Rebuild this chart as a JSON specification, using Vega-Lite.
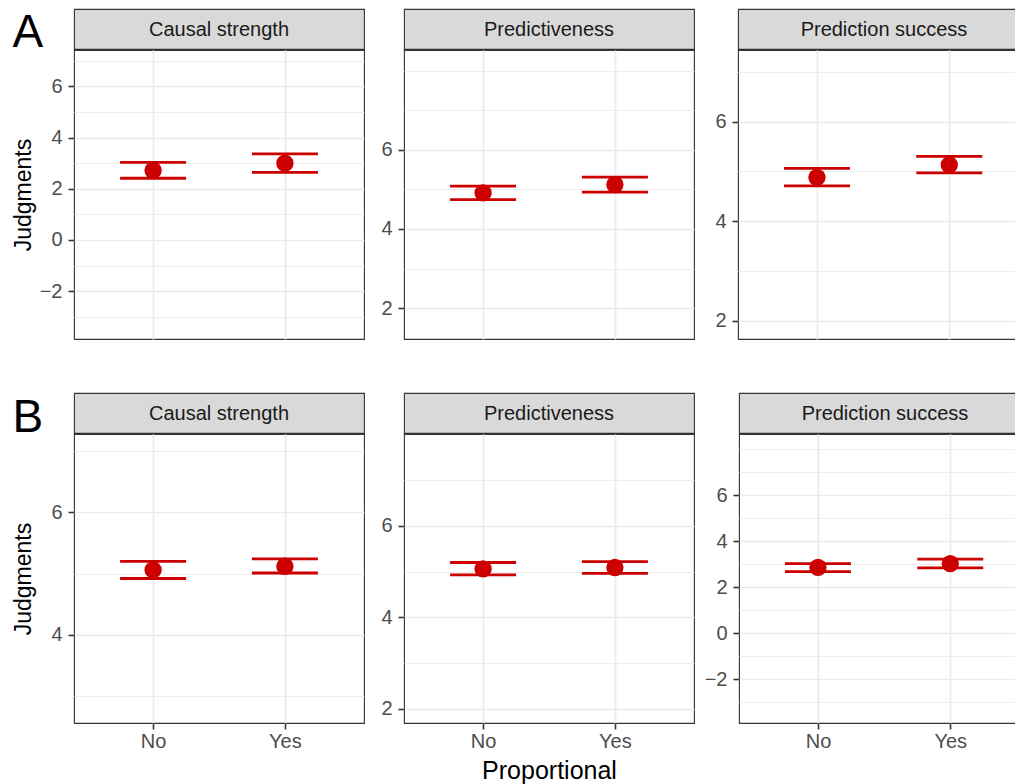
{
  "$schema": "https://vega.github.io/schema/vega-lite/v6.json",
  "background": "white",
  "padding": {"left": 11, "top": 8, "right": 0, "bottom": 0},
  "config": {"font": "Liberation Sans"},
  "datasets": {
    "pts": [
      {"exp": "A", "panel": "Causal strength", "prop": "No", "mean": 2.72, "lo": 2.41, "hi": 3.03},
      {"exp": "A", "panel": "Causal strength", "prop": "Yes", "mean": 3.0, "lo": 2.64, "hi": 3.36},
      {"exp": "A", "panel": "Predictiveness", "prop": "No", "mean": 4.91, "lo": 4.74, "hi": 5.08},
      {"exp": "A", "panel": "Predictiveness", "prop": "Yes", "mean": 5.12, "lo": 4.93, "hi": 5.31},
      {"exp": "A", "panel": "Prediction success", "prop": "No", "mean": 4.88, "lo": 4.71, "hi": 5.06},
      {"exp": "A", "panel": "Prediction success", "prop": "Yes", "mean": 5.13, "lo": 4.97, "hi": 5.30},
      {"exp": "B", "panel": "Causal strength", "prop": "No", "mean": 5.06, "lo": 4.92, "hi": 5.20},
      {"exp": "B", "panel": "Causal strength", "prop": "Yes", "mean": 5.12, "lo": 5.01, "hi": 5.24},
      {"exp": "B", "panel": "Predictiveness", "prop": "No", "mean": 5.06, "lo": 4.93, "hi": 5.20},
      {"exp": "B", "panel": "Predictiveness", "prop": "Yes", "mean": 5.09, "lo": 4.96, "hi": 5.22},
      {"exp": "B", "panel": "Prediction success", "prop": "No", "mean": 2.86, "lo": 2.68, "hi": 3.03},
      {"exp": "B", "panel": "Prediction success", "prop": "Yes", "mean": 3.03, "lo": 2.84, "hi": 3.22}
    ],
    "strips": [
      {"exp": "A", "panel": "Causal strength"},
      {"exp": "A", "panel": "Predictiveness"},
      {"exp": "A", "panel": "Prediction success"},
      {"exp": "B", "panel": "Causal strength"},
      {"exp": "B", "panel": "Predictiveness"},
      {"exp": "B", "panel": "Prediction success"}
    ]
  },
  "vconcat": [
    {
      "title": {"text": "A", "orient": "left", "anchor": "end", "frame": "group", "angle": 0, "align": "center", "baseline": "alphabetic", "dy": 38, "offset": -47, "fontSize": 46, "fontWeight": "normal", "color": "black"},
      "hconcat": [
        {
          "vconcat": [
            {
              "width": 290, "height": 40,
              "data": {"name": "strips"},
              "transform": [{"filter": "datum.exp === 'A' && datum.panel === 'Causal strength'"}],
              "view": {"fill": "#D9D9D9", "stroke": "#333333", "strokeWidth": 1.1},
              "mark": {"type": "text", "fontSize": 20, "color": "#1A1A1A", "baseline": "middle", "dy": 1},
              "encoding": {"text": {"field": "panel"}, "y": {"field": "panel", "type": "nominal", "axis": null}}
            },
            {
              "width": 290, "height": 289,
              "data": {"name": "pts"},
              "transform": [{"filter": "datum.exp === 'A' && datum.panel === 'Causal strength'"}],
              "view": {"fill": "white", "stroke": "#333333", "strokeWidth": 1.1},
              "encoding": {
                "x": {"field": "prop", "type": "nominal", "scale": {"type": "point", "padding": 0.6, "domain": ["No", "Yes"]},
                  "axis": {"grid": true, "gridColor": "#EBEBEB", "gridWidth": 1.7, "labels": false, "ticks": false, "domain": false, "title": null, "minExtent": 0, "maxExtent": 0}}
              },
              "layer": [
                {"mark": {"type": "rule", "color": "#CC0000", "strokeWidth": 2.8},
                  "encoding": {"y": {"field": "lo", "type": "quantitative", "scale": {"domain": [-3.87, 7.42], "nice": false, "zero": false},
                    "axis": {"orient": "right", "values": [-3, -1, 1, 3, 5, 7], "grid": true, "gridColor": "#EBEBEB", "gridWidth": 0.9, "labels": false, "ticks": false, "domain": false, "title": null, "minExtent": 0, "maxExtent": 0}},
                    "y2": {"field": "hi"}}},
                {"mark": {"type": "tick", "color": "#CC0000", "size": 66, "thickness": 2.8, "opacity": 1},
                  "encoding": {"y": {"field": "lo", "type": "quantitative", "axis": null}}},
                {"mark": {"type": "tick", "color": "#CC0000", "size": 66, "thickness": 2.8, "opacity": 1},
                  "encoding": {"y": {"field": "hi", "type": "quantitative", "axis": null}}},
                {"mark": {"type": "point", "filled": true, "color": "#CC0000", "size": 300, "opacity": 1},
                  "encoding": {"y": {"field": "mean", "type": "quantitative",
                    "axis": {"values": [-2, 0, 2, 4, 6], "grid": true, "gridColor": "#EBEBEB", "gridWidth": 1.7, "domain": false, "tickColor": "#333333", "tickWidth": 1.6, "tickSize": 6, "labelFontSize": 20, "labelColor": "#4D4D4D", "labelPadding": 6, "minExtent": 37, "maxExtent": 37, "title": "Judgments", "titleFontSize": 23, "titleFontWeight": "normal", "titleColor": "black", "titlePadding": 2}}}}
              ],
              "resolve": {"axis": {"y": "independent"}}
            }
          ],
          "spacing": -1
        },
        {
          "vconcat": [
            {
              "width": 290, "height": 40,
              "data": {"name": "strips"},
              "transform": [{"filter": "datum.exp === 'A' && datum.panel === 'Predictiveness'"}],
              "view": {"fill": "#D9D9D9", "stroke": "#333333", "strokeWidth": 1.1},
              "mark": {"type": "text", "fontSize": 20, "color": "#1A1A1A", "baseline": "middle", "dy": 1},
              "encoding": {"text": {"field": "panel"}, "y": {"field": "panel", "type": "nominal", "axis": null}}
            },
            {
              "width": 290, "height": 289,
              "data": {"name": "pts"},
              "transform": [{"filter": "datum.exp === 'A' && datum.panel === 'Predictiveness'"}],
              "view": {"fill": "white", "stroke": "#333333", "strokeWidth": 1.1},
              "encoding": {
                "x": {"field": "prop", "type": "nominal", "scale": {"type": "point", "padding": 0.6, "domain": ["No", "Yes"]},
                  "axis": {"grid": true, "gridColor": "#EBEBEB", "gridWidth": 1.7, "labels": false, "ticks": false, "domain": false, "title": null, "minExtent": 0, "maxExtent": 0}}
              },
              "layer": [
                {"mark": {"type": "rule", "color": "#CC0000", "strokeWidth": 2.8},
                  "encoding": {"y": {"field": "lo", "type": "quantitative", "scale": {"domain": [1.22, 8.52], "nice": false, "zero": false},
                    "axis": {"orient": "right", "values": [3, 5, 7, 8], "grid": true, "gridColor": "#EBEBEB", "gridWidth": 0.9, "labels": false, "ticks": false, "domain": false, "title": null, "minExtent": 0, "maxExtent": 0}},
                    "y2": {"field": "hi"}}},
                {"mark": {"type": "tick", "color": "#CC0000", "size": 66, "thickness": 2.8, "opacity": 1},
                  "encoding": {"y": {"field": "lo", "type": "quantitative", "axis": null}}},
                {"mark": {"type": "tick", "color": "#CC0000", "size": 66, "thickness": 2.8, "opacity": 1},
                  "encoding": {"y": {"field": "hi", "type": "quantitative", "axis": null}}},
                {"mark": {"type": "point", "filled": true, "color": "#CC0000", "size": 300, "opacity": 1},
                  "encoding": {"y": {"field": "mean", "type": "quantitative",
                    "axis": {"values": [2, 4, 6], "grid": true, "gridColor": "#EBEBEB", "gridWidth": 1.7, "domain": false, "tickColor": "#333333", "tickWidth": 1.6, "tickSize": 6, "labelFontSize": 20, "labelColor": "#4D4D4D", "labelPadding": 6, "minExtent": 30, "maxExtent": 30, "title": null}}}}
              ],
              "resolve": {"axis": {"y": "independent"}}
            }
          ],
          "spacing": -1
        },
        {
          "vconcat": [
            {
              "width": 278, "height": 40,
              "data": {"name": "strips"},
              "transform": [{"filter": "datum.exp === 'A' && datum.panel === 'Prediction success'"}],
              "view": {"fill": "#D9D9D9", "stroke": "#333333", "strokeWidth": 1.1},
              "mark": {"type": "text", "fontSize": 20, "color": "#1A1A1A", "baseline": "middle", "dy": 1, "dx": 7},
              "encoding": {"text": {"field": "panel"}, "y": {"field": "panel", "type": "nominal", "axis": null}}
            },
            {
              "width": 278, "height": 289,
              "data": {"name": "pts"},
              "transform": [{"filter": "datum.exp === 'A' && datum.panel === 'Prediction success'"}],
              "view": {"fill": "white", "stroke": "#333333", "strokeWidth": 1.1},
              "encoding": {
                "x": {"field": "prop", "type": "nominal", "scale": {"type": "point", "padding": 0.5506, "align": 0.542, "domain": ["No", "Yes"]},
                  "axis": {"grid": true, "gridColor": "#EBEBEB", "gridWidth": 1.7, "labels": false, "ticks": false, "domain": false, "title": null, "minExtent": 0, "maxExtent": 0}}
              },
              "layer": [
                {"mark": {"type": "rule", "color": "#CC0000", "strokeWidth": 2.8},
                  "encoding": {"y": {"field": "lo", "type": "quantitative", "scale": {"domain": [1.63, 7.44], "nice": false, "zero": false},
                    "axis": {"orient": "right", "values": [3, 5, 7], "grid": true, "gridColor": "#EBEBEB", "gridWidth": 0.9, "labels": false, "ticks": false, "domain": false, "title": null, "minExtent": 0, "maxExtent": 0}},
                    "y2": {"field": "hi"}}},
                {"mark": {"type": "tick", "color": "#CC0000", "size": 66, "thickness": 2.8, "opacity": 1},
                  "encoding": {"y": {"field": "lo", "type": "quantitative", "axis": null}}},
                {"mark": {"type": "tick", "color": "#CC0000", "size": 66, "thickness": 2.8, "opacity": 1},
                  "encoding": {"y": {"field": "hi", "type": "quantitative", "axis": null}}},
                {"mark": {"type": "point", "filled": true, "color": "#CC0000", "size": 300, "opacity": 1},
                  "encoding": {"y": {"field": "mean", "type": "quantitative",
                    "axis": {"values": [2, 4, 6], "grid": true, "gridColor": "#EBEBEB", "gridWidth": 1.7, "domain": false, "tickColor": "#333333", "tickWidth": 1.6, "tickSize": 6, "labelFontSize": 20, "labelColor": "#4D4D4D", "labelPadding": 6, "minExtent": 34, "maxExtent": 34, "title": null}}}}
              ],
              "resolve": {"axis": {"y": "independent"}}
            }
          ],
          "spacing": -1
        }
      ],
      "spacing": 8
    },
    {
      "title": {"text": "B", "orient": "left", "anchor": "end", "frame": "group", "angle": 0, "align": "center", "baseline": "alphabetic", "dy": 39, "offset": -47, "fontSize": 46, "fontWeight": "normal", "color": "black"},
      "hconcat": [
        {
          "vconcat": [
            {
              "width": 290, "height": 40,
              "data": {"name": "strips"},
              "transform": [{"filter": "datum.exp === 'B' && datum.panel === 'Causal strength'"}],
              "view": {"fill": "#D9D9D9", "stroke": "#333333", "strokeWidth": 1.1},
              "mark": {"type": "text", "fontSize": 20, "color": "#1A1A1A", "baseline": "middle", "dy": 1},
              "encoding": {"text": {"field": "panel"}, "y": {"field": "panel", "type": "nominal", "axis": null}}
            },
            {
              "width": 290, "height": 289,
              "data": {"name": "pts"},
              "transform": [{"filter": "datum.exp === 'B' && datum.panel === 'Causal strength'"}],
              "view": {"fill": "white", "stroke": "#333333", "strokeWidth": 1.1},
              "encoding": {
                "x": {"field": "prop", "type": "nominal", "scale": {"type": "point", "padding": 0.6, "domain": ["No", "Yes"]},
                  "axis": {"grid": true, "gridColor": "#EBEBEB", "gridWidth": 1.7, "labels": true, "labelAngle": 0, "labelFontSize": 20, "labelColor": "#4D4D4D", "labelPadding": 2, "ticks": true, "tickSize": 6, "tickColor": "#333333", "tickWidth": 1.6, "domain": false, "title": null}}
              },
              "layer": [
                {"mark": {"type": "rule", "color": "#CC0000", "strokeWidth": 2.8},
                  "encoding": {"y": {"field": "lo", "type": "quantitative", "scale": {"domain": [2.56, 7.28], "nice": false, "zero": false},
                    "axis": {"orient": "right", "values": [3, 5, 7], "grid": true, "gridColor": "#EBEBEB", "gridWidth": 0.9, "labels": false, "ticks": false, "domain": false, "title": null, "minExtent": 0, "maxExtent": 0}},
                    "y2": {"field": "hi"}}},
                {"mark": {"type": "tick", "color": "#CC0000", "size": 66, "thickness": 2.8, "opacity": 1},
                  "encoding": {"y": {"field": "lo", "type": "quantitative", "axis": null}}},
                {"mark": {"type": "tick", "color": "#CC0000", "size": 66, "thickness": 2.8, "opacity": 1},
                  "encoding": {"y": {"field": "hi", "type": "quantitative", "axis": null}}},
                {"mark": {"type": "point", "filled": true, "color": "#CC0000", "size": 300, "opacity": 1},
                  "encoding": {"y": {"field": "mean", "type": "quantitative",
                    "axis": {"values": [4, 6], "grid": true, "gridColor": "#EBEBEB", "gridWidth": 1.7, "domain": false, "tickColor": "#333333", "tickWidth": 1.6, "tickSize": 6, "labelFontSize": 20, "labelColor": "#4D4D4D", "labelPadding": 6, "minExtent": 37, "maxExtent": 37, "title": "Judgments", "titleFontSize": 23, "titleFontWeight": "normal", "titleColor": "black", "titlePadding": 2}}}}
              ],
              "resolve": {"axis": {"y": "independent"}}
            }
          ],
          "spacing": -1
        },
        {
          "vconcat": [
            {
              "width": 290, "height": 40,
              "data": {"name": "strips"},
              "transform": [{"filter": "datum.exp === 'B' && datum.panel === 'Predictiveness'"}],
              "view": {"fill": "#D9D9D9", "stroke": "#333333", "strokeWidth": 1.1},
              "mark": {"type": "text", "fontSize": 20, "color": "#1A1A1A", "baseline": "middle", "dy": 1},
              "encoding": {"text": {"field": "panel"}, "y": {"field": "panel", "type": "nominal", "axis": null}}
            },
            {
              "width": 290, "height": 289,
              "data": {"name": "pts"},
              "transform": [{"filter": "datum.exp === 'B' && datum.panel === 'Predictiveness'"}],
              "view": {"fill": "white", "stroke": "#333333", "strokeWidth": 1.1},
              "encoding": {
                "x": {"field": "prop", "type": "nominal", "scale": {"type": "point", "padding": 0.6, "domain": ["No", "Yes"]},
                  "axis": {"grid": true, "gridColor": "#EBEBEB", "gridWidth": 1.7, "labels": true, "labelAngle": 0, "labelFontSize": 20, "labelColor": "#4D4D4D", "labelPadding": 2, "ticks": true, "tickSize": 6, "tickColor": "#333333", "tickWidth": 1.6, "domain": false, "title": "Proportional", "titleFontSize": 25, "titleFontWeight": "normal", "titleColor": "black", "titlePadding": 7}}
              },
              "layer": [
                {"mark": {"type": "rule", "color": "#CC0000", "strokeWidth": 2.8},
                  "encoding": {"y": {"field": "lo", "type": "quantitative", "scale": {"domain": [1.69, 8.01], "nice": false, "zero": false},
                    "axis": {"orient": "right", "values": [3, 5, 7], "grid": true, "gridColor": "#EBEBEB", "gridWidth": 0.9, "labels": false, "ticks": false, "domain": false, "title": null, "minExtent": 0, "maxExtent": 0}},
                    "y2": {"field": "hi"}}},
                {"mark": {"type": "tick", "color": "#CC0000", "size": 66, "thickness": 2.8, "opacity": 1},
                  "encoding": {"y": {"field": "lo", "type": "quantitative", "axis": null}}},
                {"mark": {"type": "tick", "color": "#CC0000", "size": 66, "thickness": 2.8, "opacity": 1},
                  "encoding": {"y": {"field": "hi", "type": "quantitative", "axis": null}}},
                {"mark": {"type": "point", "filled": true, "color": "#CC0000", "size": 300, "opacity": 1},
                  "encoding": {"y": {"field": "mean", "type": "quantitative",
                    "axis": {"values": [2, 4, 6], "grid": true, "gridColor": "#EBEBEB", "gridWidth": 1.7, "domain": false, "tickColor": "#333333", "tickWidth": 1.6, "tickSize": 6, "labelFontSize": 20, "labelColor": "#4D4D4D", "labelPadding": 6, "minExtent": 30, "maxExtent": 30, "title": null}}}}
              ],
              "resolve": {"axis": {"y": "independent"}}
            }
          ],
          "spacing": -1
        },
        {
          "vconcat": [
            {
              "width": 278, "height": 40,
              "data": {"name": "strips"},
              "transform": [{"filter": "datum.exp === 'B' && datum.panel === 'Prediction success'"}],
              "view": {"fill": "#D9D9D9", "stroke": "#333333", "strokeWidth": 1.1},
              "mark": {"type": "text", "fontSize": 20, "color": "#1A1A1A", "baseline": "middle", "dy": 1, "dx": 7},
              "encoding": {"text": {"field": "panel"}, "y": {"field": "panel", "type": "nominal", "axis": null}}
            },
            {
              "width": 278, "height": 289,
              "data": {"name": "pts"},
              "transform": [{"filter": "datum.exp === 'B' && datum.panel === 'Prediction success'"}],
              "view": {"fill": "white", "stroke": "#333333", "strokeWidth": 1.1},
              "encoding": {
                "x": {"field": "prop", "type": "nominal", "scale": {"type": "point", "padding": 0.5506, "align": 0.542, "domain": ["No", "Yes"]},
                  "axis": {"grid": true, "gridColor": "#EBEBEB", "gridWidth": 1.7, "labels": true, "labelAngle": 0, "labelFontSize": 20, "labelColor": "#4D4D4D", "labelPadding": 2, "ticks": true, "tickSize": 6, "tickColor": "#333333", "tickWidth": 1.6, "domain": false, "title": null}}
              },
              "layer": [
                {"mark": {"type": "rule", "color": "#CC0000", "strokeWidth": 2.8},
                  "encoding": {"y": {"field": "lo", "type": "quantitative", "scale": {"domain": [-3.9, 8.66], "nice": false, "zero": false},
                    "axis": {"orient": "right", "values": [-3, -1, 1, 3, 5, 7, 8], "grid": true, "gridColor": "#EBEBEB", "gridWidth": 0.9, "labels": false, "ticks": false, "domain": false, "title": null, "minExtent": 0, "maxExtent": 0}},
                    "y2": {"field": "hi"}}},
                {"mark": {"type": "tick", "color": "#CC0000", "size": 66, "thickness": 2.8, "opacity": 1},
                  "encoding": {"y": {"field": "lo", "type": "quantitative", "axis": null}}},
                {"mark": {"type": "tick", "color": "#CC0000", "size": 66, "thickness": 2.8, "opacity": 1},
                  "encoding": {"y": {"field": "hi", "type": "quantitative", "axis": null}}},
                {"mark": {"type": "point", "filled": true, "color": "#CC0000", "size": 300, "opacity": 1},
                  "encoding": {"y": {"field": "mean", "type": "quantitative",
                    "axis": {"values": [-2, 0, 2, 4, 6], "grid": true, "gridColor": "#EBEBEB", "gridWidth": 1.7, "domain": false, "tickColor": "#333333", "tickWidth": 1.6, "tickSize": 6, "labelFontSize": 20, "labelColor": "#4D4D4D", "labelPadding": 6, "minExtent": 34, "maxExtent": 34, "title": null}}}}
              ],
              "resolve": {"axis": {"y": "independent"}}
            }
          ],
          "spacing": -1
        }
      ],
      "spacing": 8
    }
  ],
  "spacing": 52
}
